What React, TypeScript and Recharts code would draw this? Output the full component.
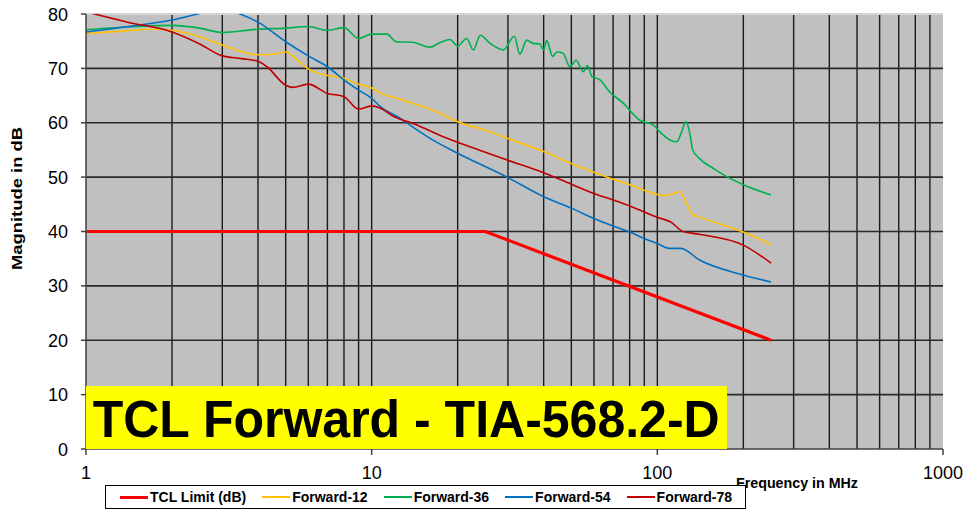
import React from "react";
import { LineChart, Line, XAxis, YAxis, ReferenceLine, ReferenceArea } from "recharts";

// ---- data ----
const X_TICKS = [1, 10, 100, 1000];
const Y_TICKS = [0, 10, 20, 30, 40, 50, 60, 70, 80];
const GRID_FREQS = [2, 3, 4, 5, 6, 7, 8, 9, 10, 20, 30, 40, 50, 60, 70, 80, 90, 100, 200, 300, 400, 500, 600, 700, 800, 900];
const GRID_DB = [10, 20, 30, 40, 50, 60, 70];

const limitFreq = [1, 25, 250];
const limitDb = [40, 40, 20];

const f12 = [1, 1.3, 1.7, 2, 2.5, 3, 4, 4.5, 5, 5.5, 6, 7, 8, 9, 10, 10.7, 12.6, 16.4, 20, 25, 30, 40, 50, 60, 70, 80, 90, 100, 106, 113, 120, 125, 132, 141, 170, 200, 250];
const v12 = [76.4, 76.8, 77.2, 77.0, 75.8, 74.3, 72.5, 72.6, 73.0, 71.5, 69.9, 68.7, 68.2, 67.1, 66.4, 65.5, 64.3, 62.3, 60.2, 58.6, 57.1, 54.7, 52.5, 50.9, 49.6, 48.6, 47.6, 46.8, 46.6, 46.9, 47.3, 45.8, 43.3, 42.6, 41.2, 39.9, 37.6];

const f36 = [1, 1.5, 2, 2.5, 3, 4, 5, 6, 7, 8, 9, 10, 11.3, 12.2, 13.9, 16, 17.3, 18.8, 20, 21.5, 22.7, 24, 26, 28.9, 31.6, 33, 34.9, 36.7, 38.8, 39.9, 41, 43, 44.5, 46.8, 49.4, 52, 55, 57, 59, 63, 68, 76, 86.6, 96.7, 101.7, 111, 117, 121, 126, 130, 133, 140, 157, 175, 200, 250];
const v36 = [77.1, 77.7, 77.9, 77.4, 76.6, 77.2, 77.4, 77.7, 77.0, 77.5, 75.5, 76.3, 76.3, 74.9, 74.8, 73.9, 74.7, 75.3, 74.1, 75.5, 73.4, 76.1, 74.6, 73.4, 75.9, 72.6, 75.2, 74.6, 74.5, 73.4, 75.1, 72.2, 73.0, 72.8, 70.3, 71.5, 69.4, 70.5, 68.5, 67.9, 65.7, 63.6, 60.5, 59.6, 58.4, 56.8, 56.5, 58.0, 60.2, 58.0, 55.0, 53.5, 51.6, 50.1, 48.6, 46.7];

const f54 = [1, 1.5, 2, 2.5, 3, 3.5, 4, 5, 6, 7, 8, 9, 10, 10.7, 12.6, 14.4, 16.4, 20, 30, 40, 50, 60, 70, 80, 90, 100, 110, 121, 140, 200, 250];
const v54 = [76.7, 77.9, 78.9, 80.1, 81.0, 79.9, 78.5, 74.9, 72.3, 70.3, 67.9, 66.0, 64.5, 63.0, 60.8, 58.7, 56.8, 54.4, 49.9, 46.4, 44.3, 42.4, 41.0, 39.9, 38.7, 37.8, 36.9, 36.9, 34.8, 32.0, 30.7];

const f78 = [1, 1.4, 2, 2.5, 3, 3.5, 4, 4.3, 5, 5.3, 6, 7, 8, 9, 10, 10.7, 11.9, 14.4, 17.3, 20, 24, 30, 40, 50, 60, 70, 80, 90, 100, 111, 123, 140, 200, 250];
const v78 = [80.4, 78.5, 76.7, 74.5, 72.3, 71.8, 71.3, 70.3, 66.9, 66.5, 67.1, 65.4, 64.8, 62.5, 63.1, 62.7, 61.2, 59.6, 57.7, 56.4, 54.9, 53.1, 50.8, 48.7, 47.0, 45.8, 44.7, 43.6, 42.6, 41.8, 40.0, 39.5, 37.5, 34.2];

const toPoints = (fs: number[], vs: number[]) => fs.map((f, i) => ({ f, v: vs[i] }));

const SERIES = [
  { name: "TCL Limit (dB)", color: "#FF0000", width: 3.2, type: "linear", data: toPoints(limitFreq, limitDb) },
  { name: "Forward-12", color: "#FFC000", width: 1.6, type: "monotone", data: toPoints(f12, v12) },
  { name: "Forward-36", color: "#00B050", width: 1.6, type: "monotone", data: toPoints(f36, v36) },
  { name: "Forward-54", color: "#0070C0", width: 1.6, type: "monotone", data: toPoints(f54, v54) },
  { name: "Forward-78", color: "#C00000", width: 1.6, type: "monotone", data: toPoints(f78, v78) },
];

const FONT = "'Liberation Sans', Arial, Helvetica, sans-serif";

const XTick = (props: any) => {
  const { x, y, payload } = props;
  return (
    <text x={x} y={y + 22} textAnchor="middle" fontFamily={FONT} fontSize={18} fill="#000">
      {payload.value}
    </text>
  );
};

const YTick = (props: any) => {
  const { x, y, payload } = props;
  return (
    <text x={x - 11} y={y + 6.5} textAnchor="end" fontFamily={FONT} fontSize={18} fill="#000">
      {payload.value}
    </text>
  );
};

export default function App() {
  return (
    <div style={{ position: "absolute", left: 0, top: 0, width: 967, height: 510, background: "#fff", overflow: "hidden" }}>
      <LineChart width={967} height={510} margin={{ top: 14, right: 24, left: 0, bottom: 0 }}>
        <XAxis
          dataKey="f"
          type="number"
          scale="log"
          domain={[1, 1000]}
          ticks={X_TICKS}
          allowDataOverflow
          height={61}
          tick={<XTick />}
          tickSize={6}
          axisLine={{ stroke: "#404040", strokeWidth: 1.5 }}
          tickLine={{ stroke: "#404040", strokeWidth: 1.5 }}
        />
        <YAxis
          type="number"
          domain={[0, 80]}
          ticks={Y_TICKS}
          allowDataOverflow
          width={86}
          tick={<YTick />}
          tickSize={5}
          axisLine={{ stroke: "#404040", strokeWidth: 1.5 }}
          tickLine={{ stroke: "#404040", strokeWidth: 1.5 }}
        />
        <ReferenceArea x1={1} x2={1000} y1={0} y2={80} fill="#C0C0C0" fillOpacity={1} stroke="none" ifOverflow="hidden" />
        {GRID_FREQS.map((f) => (
          <ReferenceLine key={"vx" + f} x={f} stroke="#1a1a1a" strokeWidth={1.4} />
        ))}
        {GRID_DB.map((d) => (
          <ReferenceLine key={"hy" + d} y={d} stroke="#2a2a2a" strokeWidth={1.6} />
        ))}
        <ReferenceLine y={80} stroke="#d4d4d4" strokeWidth={2} />
        {SERIES.map((s) => (
          <Line
            key={s.name}
            data={s.data}
            dataKey="v"
            name={s.name}
            type={s.type as any}
            stroke={s.color}
            strokeWidth={s.width}
            dot={false}
            activeDot={false}
            isAnimationActive={false}
          />
        ))}
      </LineChart>

      <svg width={967} height={510} style={{ position: "absolute", left: 0, top: 0, pointerEvents: "none" }}>
        <rect x={86} y={386} width={641} height={63} fill="#FFFF00" />
        <text
          x={92.7}
          y={436.7}
          fontFamily={FONT}
          fontWeight="bold"
          fontSize={51}
          fill="#000"
          textLength={627}
          lengthAdjust="spacingAndGlyphs"
        >
          TCL Forward - TIA-568.2-D
        </text>
        <text
          x={22}
          y={198.5}
          transform="rotate(-90 22 198.5)"
          textAnchor="middle"
          fontFamily={FONT}
          fontWeight="bold"
          fontSize={15}
          fill="#000"
          textLength={143}
          lengthAdjust="spacingAndGlyphs"
        >
          Magnitude in dB
        </text>
        <text
          x={736}
          y={488.3}
          fontFamily={FONT}
          fontWeight="bold"
          fontSize={14}
          fill="#000"
          textLength={122}
          lengthAdjust="spacingAndGlyphs"
        >
          Frequency in MHz
        </text>
      </svg>

      <div
        style={{
          position: "absolute",
          left: 105,
          top: 485,
          width: 641,
          height: 24,
          boxSizing: "border-box",
          border: "1px solid #000",
          background: "#fff",
          display: "flex",
          alignItems: "center",
          paddingLeft: 14,
          fontFamily: FONT,
          fontWeight: "bold",
          fontSize: 14,
          color: "#000",
          whiteSpace: "nowrap",
        }}
      >
        {SERIES.map((s) => (
          <div key={s.name} style={{ display: "flex", alignItems: "center", marginRight: 16 }}>
            <span
              style={{
                display: "inline-block",
                width: 28,
                height: s.width > 2 ? 3 : 2,
                background: s.color,
                marginRight: 2,
              }}
            />
            <span>{s.name}</span>
          </div>
        ))}
      </div>
    </div>
  );
}
